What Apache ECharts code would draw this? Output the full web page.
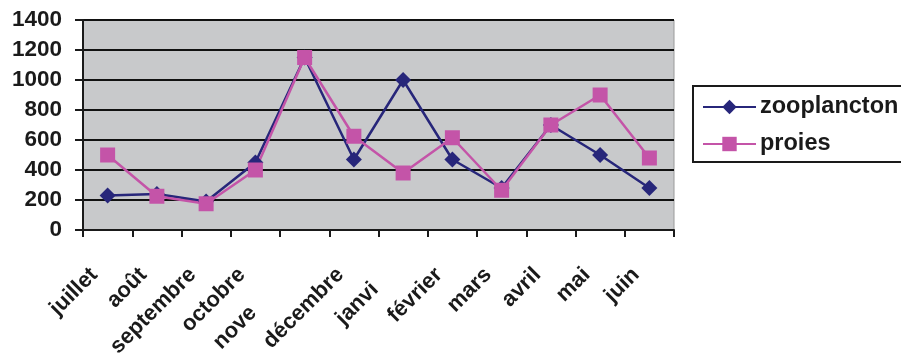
<!DOCTYPE html>
<html>
<head>
<meta charset="utf-8">
<script src="https://cdn.jsdelivr.net/npm/echarts@6/dist/echarts.min.js"></script>
<style>
  html, body { margin: 0; padding: 0; background: #ffffff; }
  #chart { width: 901px; height: 355px; }
</style>
</head>
<body>
<div id="chart"></div>
<script>
// Months of the sampling year (July to June)
const months = ['juillet', 'août', 'septembre', 'octobre', 'novembre', 'décembre',
                'janvier', 'février', 'mars', 'avril', 'mai', 'juin'];
// Text shown under each tick (two names are cut short on the axis)
const tickLabels = ['juillet', 'août', 'septembre', 'octobre', 'nove', 'décembre',
                    'janvi', 'février', 'mars', 'avril', 'mai', 'juin'];
const zooplancton = [230, 240, 190, 450, 1150, 470, 1000, 470, 280, 700, 500, 280];
const proies      = [500, 225, 175, 400, 1150, 625, 380, 615, 265, 700, 900, 480];
const yTicks = [0, 200, 400, 600, 800, 1000, 1200, 1400];

const FONT = 'Liberation Sans, Arial, sans-serif';
const LABEL_SIZE = 22;
const LABEL_SHIFT = 19;

// Width of the part of a month name that is cut off, so the visible part
// stays where the full name would sit.
const measureCtx = document.createElement('canvas').getContext('2d');
measureCtx.font = 'bold ' + LABEL_SIZE + 'px ' + FONT;
function hiddenWidth(i) {
  const full = months[i], shown = tickLabels[i];
  if (full === shown) return 0;
  return measureCtx.measureText(full.slice(shown.length)).width;
}

const rich = {};
months.forEach((m, i) => {
  rich['m' + i] = {
    fontFamily: FONT, fontWeight: 'bold', fontSize: LABEL_SIZE, color: '#1a1a1a',
    padding: [0, hiddenWidth(i) + LABEL_SHIFT, 0, 0]
  };
});

const chart = echarts.init(document.getElementById('chart'), null, { renderer: 'canvas' });
chart.setOption({
  animation: false,
  grid: {
    left: 83, right: 227, top: 20, bottom: 125,
    containLabel: false, outerBoundsMode: 'none',
    show: true, backgroundColor: '#c8c9cb', borderColor: '#9a9a9a', borderWidth: 1
  },
  legend: {
    orient: 'vertical', left: 693, top: 86,
    data: ['zooplancton', 'proies'],
    itemWidth: 53, itemHeight: 18, itemGap: 13,
    padding: [9, 30, 6, 9],
    borderColor: '#1a1a1a', borderWidth: 2,
    textStyle: { fontFamily: FONT, fontWeight: 'bold', fontSize: 23.5, color: '#1a1a1a', padding: [0, 0, 0, -1] }
  },
  xAxis: {
    type: 'category', data: months, boundaryGap: true,
    axisLine: { lineStyle: { color: '#1a1a1a', width: 2 } },
    axisTick: { show: true, length: 7, lineStyle: { color: '#1a1a1a', width: 2 } },
    axisLabel: {
      interval: 0, rotate: 45, margin: 28,
      formatter: (v, i) => '{m' + i + '|' + tickLabels[i] + '}',
      rich: rich
    },
    splitLine: { show: false }
  },
  yAxis: {
    type: 'value', min: yTicks[0], max: yTicks[yTicks.length - 1], interval: yTicks[1] - yTicks[0],
    axisLine: { show: true, lineStyle: { color: '#1a1a1a', width: 2 } },
    axisTick: { show: true, length: 8, lineStyle: { color: '#1a1a1a', width: 2 } },
    axisLabel: {
      margin: 21, fontFamily: FONT, fontWeight: 'bold', fontSize: 22.5, color: '#1a1a1a',
      formatter: v => String(v)
    },
    splitLine: { show: true, lineStyle: { color: '#111111', width: 2 } }
  },
  series: [
    {
      name: 'zooplancton', type: 'line', data: zooplancton,
      symbol: 'diamond', symbolSize: 16,
      lineStyle: { color: '#27267a', width: 2.5 },
      itemStyle: { color: '#27267a' }
    },
    {
      name: 'proies', type: 'line', data: proies,
      symbol: 'rect', symbolSize: 15,
      lineStyle: { color: '#c454a8', width: 2.5 },
      itemStyle: { color: '#c454a8' }
    }
  ]
});
</script>
</body>
</html>
